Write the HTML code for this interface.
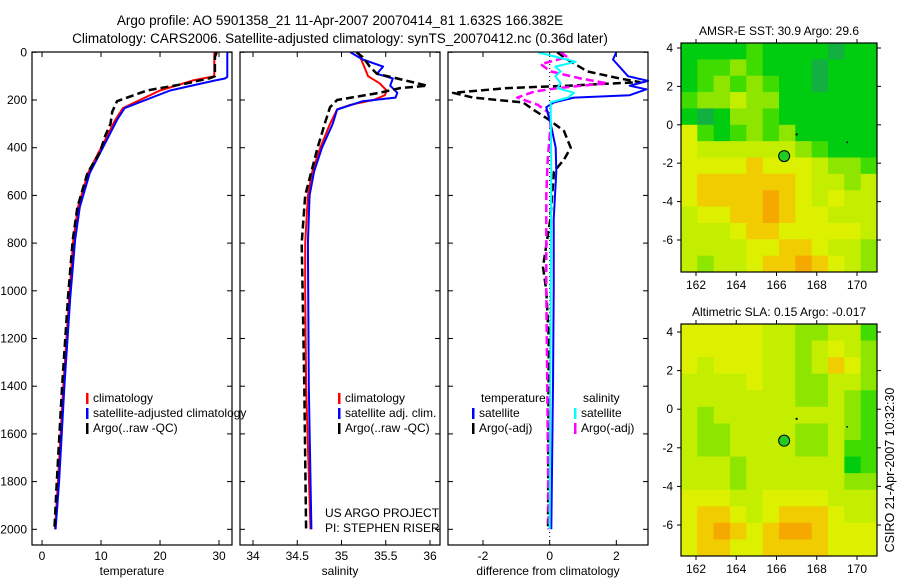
<!DOCTYPE html>
<html><head><meta charset="utf-8">
<style>
body{margin:0;background:#fff;}
svg{display:block;font-family:"Liberation Sans",sans-serif;}
text{font-size:12px;fill:#000;}
</style></head>
<body>
<svg id="c" width="900" height="580" viewBox="0 0 900 580">
<text x="340" y="25" text-anchor="middle" style="font-size:13.5px">Argo profile: AO 5901358_21 11-Apr-2007 20070414_81 1.632S 166.382E</text>
<text x="340" y="43" text-anchor="middle" style="font-size:13.5px">Climatology: CARS2006. Satellite-adjusted climatology: synTS_20070412.nc (0.36d later)</text>
<text x="0" y="0" transform="translate(894,470) rotate(-90)" text-anchor="middle" style="font-size:12.5px">CSIRO 21-Apr-2007 10:32:30</text>
</svg>
<script>
// ---- profile data ----
const tClimD=[0,100,118,160,234,284,367,506,649,788,1027,1400,1800,2000];
const tClimV=[29.2,29.2,25.6,20,13.7,12.4,10.7,7.8,6.1,5.3,4.6,3.6,2.7,2.2];
const tSatD=[0,103,110,120,160,234,284,367,506,649,788,1027,1400,1800,2000];
const tSatV=[31.4,31.4,31,29,21.7,14,12.7,11,8.1,6.4,5.6,4.8,3.8,2.9,2.3];
const tArgoD=[0,20,100,108,130,160,205,250,300,350,420,506,649,788,1027,1400,1800,2000];
const tArgoV=[29.6,29.3,29.3,28.5,24.6,17.8,12.7,11.9,11.6,10.7,9.8,7.7,6,5.2,4.4,3.4,2.5,2.1];
const sClimD=[0,100,130,160,180,200,220,240,300,400,500,600,800,1000,1400,2000];
const sClimV=[35.19,35.3,35.43,35.51,35.49,35.36,35.1,34.95,34.87,34.76,34.67,34.62,34.59,34.59,34.6,34.65];
const sSatD=[0,30,60,90,110,140,170,190,205,240,300,400,500,600,800,1400,2000];
const sSatV=[35.1,35.24,35.47,35.4,35.58,35.55,35.63,35.61,35.24,34.95,34.9,34.78,34.69,34.64,34.62,34.63,34.66];
const sArgoD=[0,20,60,90,110,140,150,170,200,230,300,400,600,800,1000,1400,2000];
const sArgoV=[35.17,35.24,35.32,35.4,35.63,35.97,35.66,35.43,34.95,34.87,34.81,34.73,34.59,34.55,34.56,34.58,34.6];
const dTSatD=[0,30,100,120,140,155,180,190,210,230,300,400,500,700,1000,1400,2000];
const dTSatV=[2.0,1.9,2.35,2.95,2.4,2.9,2.4,0.73,0.13,-0.1,0.03,0.18,0.2,0.12,0.12,0.1,0.05];
const dSSatD=[0,20,40,60,80,100,130,150,170,190,210,250,500,1000,2000];
const dSSatV=[-0.36,0.23,0.78,0.17,0.33,0.17,0.33,0.23,0.73,0.55,0.03,0.03,0.05,0.03,0.0];
const dTArgoD=[0,30,80,110,125,140,150,170,190,210,240,280,330,400,450,500,700,900,1000,1200,2000];
const dTArgoV=[0.23,0.53,1.13,2.1,2.7,0.55,-1.27,-2.9,-2.3,-0.8,-0.5,-0.05,0.43,0.63,0.43,0.13,0.02,-0.2,-0.1,-0.03,-0.05];
const dSArgoD=[0,20,50,80,110,130,150,165,190,220,250,300,450,600,1000,2000];
const dSArgoV=[0.33,0.53,-0.27,0.03,0.93,1.73,0.23,-0.47,-0.97,-0.36,-0.06,0.03,-0.06,-0.1,-0.1,-0.03];
const depthTicks=[0,200,400,600,800,1000,1200,1400,1600,1800,2000];
const tTicks=[0,10,20,30];
const sTicks=[34,34.5,35,35.5,36];
const sTickLabels=["34","34.5","35","35.5","36"];
const dTicks=[-2,0,2];
// ---- map data (color level 0-7), rows north->south ----
const sstGrid=["111121111011","122321110111","123232110111","233433111111","101332111111","521232311111","544444432111","555565554332","566666654434","566667654544","455667655444","444566555554","444455665443","434456676543"];
const slaGrid=["555554433442","555554434543","545554434653","444454433443","444444433432","434444444432","433444433432","433444433422","444344444412","444344444433","555445555444","566545666544","567656776555","566556666555"];
const palette=["#12b040","#00cc10","#40dc00","#8ee600","#c4ee00","#dcf000","#f0cc00","#f4a800"];
const sstTitle="AMSR-E SST: 30.9  Argo: 29.6";
const slaTitle="Altimetric SLA: 0.15  Argo: -0.017";
const lonTicks=[162,164,166,168,170];
const latTicks=[4,2,0,-2,-4,-6];
const argoLon=166.38, argoLat=-1.63;

const svg=document.getElementById('c');
const NS='http://www.w3.org/2000/svg';
function mk(tag,attrs,parent){const e=document.createElementNS(NS,tag);for(const k in attrs)e.setAttribute(k,attrs[k]);(parent||svg).appendChild(e);return e;}
const Y0=52.3, PX=47.7/200;
const yD=d=>Y0+d*PX;

function panel(x0,name,xmin,xmax,ticks,labels,xlabel,showY){
  const x1=x0+200, top=52, bot=545;
  const xs=v=>x0+(v-xmin)/(xmax-xmin)*200;
  const g=mk('g',{});
  
  
  depthTicks.forEach(d=>{
    const y=yD(d);
    mk('line',{x1:x0,x2:x0+5,y1:y,y2:y,stroke:'#000'},g);
    mk('line',{x1:x1-5,x2:x1,y1:y,y2:y,stroke:'#000'},g);
    if(showY){const t=mk('text',{x:x0-5,y:y+4,'text-anchor':'end'},g);t.textContent=d;
      
      }
  });
  ticks.forEach((v,i)=>{
    const x=xs(v);
    mk('line',{x1:x,x2:x,y1:bot,y2:bot-5,stroke:'#000'},g);
    mk('line',{x1:x,x2:x,y1:top,y2:top+5,stroke:'#000'},g);
    const t=mk('text',{x:x,y:bot+15,'text-anchor':'middle'},g);t.textContent=labels[i];
    
    
  });
  const xl=mk('text',{x:x0+100,y:575,'text-anchor':'middle'},g);xl.textContent=xlabel;
  
  
  return {g,xs,x0,x1,top,bot};
}
function line(p,D,V,color,dash,w,name){
  const pts=D.map((d,i)=>p.xs(V[i]).toFixed(1)+','+yD(d).toFixed(1)).join(' ');
  const e=mk('polyline',{points:pts,fill:'none',stroke:color,'stroke-width':w||2,'stroke-dasharray':dash||'none','stroke-linejoin':'round'},p.g);
  
  
}
function frame(p){mk('rect',{x:p.x0,y:p.top,width:200,height:p.bot-p.top,fill:'none',stroke:'#000','stroke-width':1.2},p.g);}
function legend(p,x,y,items){
  items.forEach((it,i)=>{
    const yy=y+i*15;
    mk('rect',{x:x,y:yy-9,width:2.5,height:11,fill:it[1]},p.g);
    const t=mk('text',{x:x+7,y:yy},p.g);t.textContent=it[0];
    
    
  });
}
const p1=panel(32,'temperature',-1.7,32.2,tTicks,tTicks.map(String),'temperature',true);
line(p1,tClimD,tClimV,'#f00',null,2,'temperature-climatology-line');
line(p1,tSatD,tSatV,'#00f',null,2,'temperature-satellite-line');
line(p1,tArgoD,tArgoV,'#000','8,4',2.5,'temperature-argo-line');
legend(p1,86,402,[['climatology','#f00'],['satellite-adjusted climatology','#00f'],['Argo(..raw -QC)','#000']]);
frame(p1);

const p2=panel(240,'salinity',33.853,36.113,sTicks,sTickLabels,'salinity',false);
line(p2,sClimD,sClimV,'#f00',null,2,'salinity-climatology-line');
line(p2,sSatD,sSatV,'#00f',null,2,'salinity-satellite-line');
line(p2,sArgoD,sArgoV,'#000','8,4',2.5,'salinity-argo-line');
legend(p2,338,402,[['climatology','#f00'],['satellite adj. clim.','#00f'],['Argo(..raw -QC)','#000']]);
[['US ARGO PROJECT',517],['PI: STEPHEN RISER',532]].forEach(a=>{const t=mk('text',{x:325,y:a[1]},p2.g);t.textContent=a[0];
  
  });
frame(p2);

const p3=panel(448,'difference',-3.05,2.95,dTicks,dTicks.map(String),'difference from climatology',false);
mk('line',{x1:p3.xs(0),x2:p3.xs(0),y1:52,y2:545,stroke:'#000','stroke-dasharray':'1,3'},p3.g);
line(p3,dTArgoD,dTArgoV,'#000','8,4',2.5,'temperature-argo-difference-line');
line(p3,dSArgoD,dSArgoV,'#f0f','8,4',2.5,'salinity-argo-difference-line');
line(p3,dTSatD,dTSatV,'#00f',null,2,'temperature-satellite-difference-line');
line(p3,dSSatD,dSSatV,'#0ff',null,2,'salinity-satellite-difference-line');
{const t=mk('text',{x:481,y:402},p3.g);t.textContent='temperature';
 const u=mk('text',{x:583,y:402},p3.g);u.textContent='salinity';}
legend(p3,472,417,[['satellite','#00f'],['Argo(-adj)','#000']]);
legend(p3,574,417,[['satellite','#0ff'],['Argo(-adj)','#f0f']]);
frame(p3);

function map(x0,y0,x1,y1,lat4y,latm6y,grid,title,name){
  const g=mk('g',{});
  
  
  const lx=v=>696+(v-162)*(857-696)/8;
  const ly=v=>lat4y+(4-v)*(latm6y-lat4y)/10;
  const rows=grid.length, cols=grid[0].length;
  const cw=(x1-x0)/cols, ch=(y1-y0)/rows;
  grid.forEach((r,i)=>{for(let j=0;j<cols;j++){
    const c=mk('rect',{x:x0+j*cw,y:y0+i*ch,width:cw+0.5,height:ch+0.5,fill:palette[+r[j]]},g);
    
    
  }});
  mk('rect',{x:x0,y:y0,width:x1-x0,height:y1-y0,fill:'none',stroke:'#000','stroke-width':1.2},g);
  lonTicks.forEach(v=>{const x=lx(v);mk('line',{x1:x,x2:x,y1:y1,y2:y1+4,stroke:'#000'},g);mk('line',{x1:x,x2:x,y1:y0,y2:y0-4,stroke:'#000'},g);
    const t=mk('text',{x:x,y:y1+17,'text-anchor':'middle'},g);t.textContent=v;
    });
  latTicks.forEach(v=>{const y=ly(v);mk('line',{x1:x0-4,x2:x0,y1:y,y2:y,stroke:'#000'},g);mk('line',{x1:x1,x2:x1+4,y1:y,y2:y,stroke:'#000'},g);
    const t=mk('text',{x:x0-8,y:y+4,'text-anchor':'end'},g);t.textContent=v;
    });
  const t=mk('text',{x:(x0+x1)/2,y:y0-8,'text-anchor':'middle'},g);t.textContent=title;
  
  mk('rect',{x:lx(167)-1,y:ly(-0.5)-1,width:2,height:2,fill:'#000'},g);
  mk('rect',{x:lx(169.5)-0.5,y:ly(-0.9)-0.5,width:1.5,height:1.5,fill:'#000'},g);
  const d=mk('circle',{cx:lx(argoLon),cy:ly(argoLat),r:5.5,fill:'#22cc22',stroke:'#000','stroke-width':1},g);
  
}
map(681,43,877,272,48,240,sstGrid,sstTitle,'sst');
map(681,324,877,556,332,525,slaGrid,slaTitle,'sla');
</script>
</body></html>
